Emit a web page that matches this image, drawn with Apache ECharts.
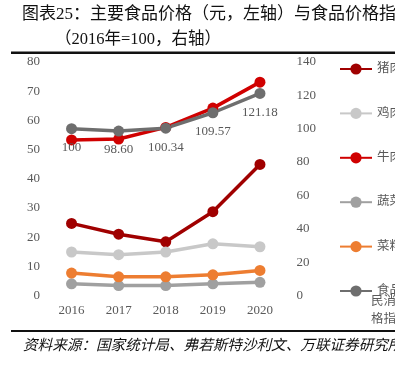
<!DOCTYPE html>
<html>
<head>
<meta charset="utf-8">
<script src="https://cdn.jsdelivr.net/npm/echarts@6/dist/echarts.min.js"></script>
<style>
  html, body { margin: 0; padding: 0; background: #fff; }
  #main { width: 395px; height: 365px; }
</style>
</head>
<body>
<div id="main"></div>
<script>
// 数据
var years = ['2016', '2017', '2018', '2019', '2020']
var pork = [24.7, 21.0, 18.4, 28.7, 44.9]
var chicken = [14.9, 14.0, 14.9, 17.7, 16.7]
var beef = [53.3, 53.6, 57.6, 64.2, 73.1]
var veg = [4.0, 3.4, 3.4, 4.0, 4.5]
var oil = [7.7, 6.4, 6.4, 7.1, 8.6]
var cpi = [100, 98.6, 100.34, 109.57, 121.18]
var cpiLabels = ['100', '98.60', '100.34', '109.57', '121.18']

var serif = '"Liberation Serif", "Noto Sans CJK SC", serif'
var grey = '#595959'

let myChart = echarts.init(document.getElementById('main'))

function lineSeries(name, data, color, yIndex) {
  return {
    name: name,
    type: 'line',
    yAxisIndex: yIndex || 0,
    data: data,
    symbol: 'circle',
    symbolSize: 11,
    lineStyle: { width: 3.5, color: color },
    itemStyle: { color: color },
    emphasis: { disabled: true },
  }
}

var cpiSeries = lineSeries('食品类居', cpi, '#6E6E6E', 1)
cpiSeries.label = {
  show: true,
  position: 'bottom',
  distance: 7,
  color: grey,
  fontSize: 13,
  fontFamily: serif,
  formatter: function (p) {
    return cpiLabels[p.dataIndex]
  },
}

let option = {
  animation: false,
  backgroundColor: '#fff',
  graphic: [
    // 标题
    {
      type: 'text',
      left: 22,
      top: 6,
      style: {
        text: '图表25：主要食品价格（元，左轴）与食品价格指数',
        fontSize: 17,
        fontFamily: serif,
        fill: '#111',
      },
    },
    {
      type: 'text',
      left: 55,
      top: 31,
      style: {
        text: '（2016年=100，右轴）',
        fontSize: 16.5,
        fontFamily: serif,
        fill: '#111',
      },
    },
    { type: 'rect', shape: { x: 11, y: 51.5, width: 384, height: 2.5 }, style: { fill: '#111' } },
    { type: 'rect', shape: { x: 11, y: 330, width: 384, height: 2 }, style: { fill: '#111' } },
    {
      type: 'text',
      left: 23,
      top: 339,
      style: {
        text: '资料来源：国家统计局、弗若斯特沙利文、万联证券研究所',
        fontSize: 14.6,
        fontStyle: 'italic',
        fontFamily: serif,
        fill: '#111',
      },
    },
    // 图例最后一项换行
    {
      type: 'text',
      left: 371,
      top: 293,
      style: {
        text: '民消费价\n格指数',
        fontSize: 12.5,
        lineHeight: 18,
        fontFamily: serif,
        fill: grey,
      },
    },
  ],
  legend: {
    orient: 'vertical',
    left: 334,
    top: 57,
    itemWidth: 32,
    itemHeight: 14,
    itemGap: 30.4,
    textStyle: { fontSize: 12.5, color: grey, fontFamily: serif, lineHeight: 14 },
    data: ['猪肉', '鸡肉', '牛肉', '蔬菜', '菜籽油', '食品类居'],
  },
  grid: {
    left: 48,
    right: 111.5,
    top: 62,
    bottom: 69.5,
  },
  xAxis: {
    type: 'category',
    data: years,
    axisLine: { show: false },
    axisTick: { show: false },
    axisLabel: { color: grey, fontSize: 13, fontFamily: serif, margin: 9 },
  },
  yAxis: [
    {
      type: 'value',
      min: 0,
      max: 80,
      interval: 10,
      splitLine: { show: false },
      axisLine: { show: false },
      axisTick: { show: false },
      axisLabel: { color: grey, fontSize: 13, fontFamily: serif, margin: 8 },
    },
    {
      type: 'value',
      min: 0,
      max: 140,
      interval: 20,
      splitLine: { show: false },
      axisLine: { show: false },
      axisTick: { show: false },
      axisLabel: { color: grey, fontSize: 13, fontFamily: serif, margin: 13 },
    },
  ],
  series: [
    lineSeries('猪肉', pork, '#A00000'),
    lineSeries('鸡肉', chicken, '#C8C8C8'),
    lineSeries('牛肉', beef, '#D00000'),
    lineSeries('蔬菜', veg, '#A0A0A0'),
    lineSeries('菜籽油', oil, '#ED7D31'),
    cpiSeries,
  ],
}

myChart.setOption(option)
window.addEventListener('resize', function () {
  myChart.resize()
})
</script>
</body>
</html>
